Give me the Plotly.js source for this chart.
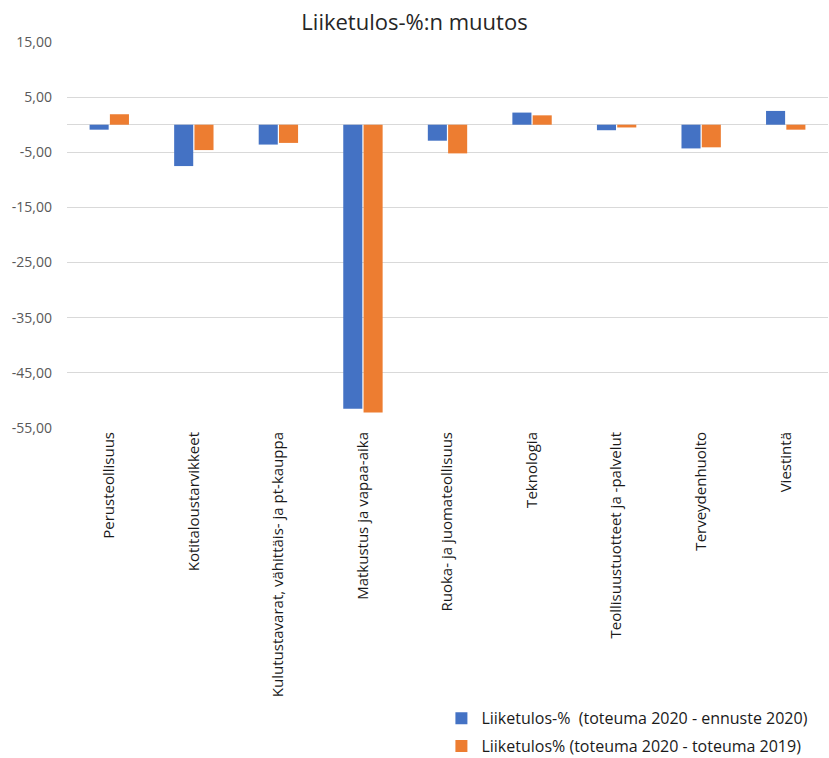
<!DOCTYPE html>
<html>
<head>
<meta charset="utf-8">
<script src="https://cdn.plot.ly/plotly-3.0.1.min.js"></script>
<style>
  html, body { margin: 0; padding: 0; background: #ffffff; }
  #chart { width: 829px; height: 758px; }
</style>
</head>
<body>
<div id="chart"></div>
<script>
// Toimialat
const categories = [
  "Perusteollisuus",
  "Kotitaloustarvikkeet",
  "Kulutustavarat, vähittäis- ja pt-kauppa",
  "Matkustus ja vapaa-aika",
  "Ruoka- ja juomateollisuus",
  "Teknologia",
  "Teollisuustuotteet ja -palvelut",
  "Terveydenhuolto",
  "Viestintä"
];

// Liiketulos-% (toteuma 2020 - ennuste 2020)
const vsForecast = [-0.9, -7.5, -3.6, -51.5, -2.9, 2.2, -1.0, -4.3, 2.5];

// Liiketulos% (toteuma 2020 - toteuma 2019)
const vsPrevYear = [1.9, -4.6, -3.3, -52.2, -5.2, 1.7, -0.5, -4.1, -0.9];

// Pystyakselin jaotus
const yTicks = [15, 5, -5, -15, -25, -35, -45, -55];
const yTickText = ["15,00", "5,00", "-5,00", "-15,00", "-25,00", "-35,00", "-45,00", "-55,00"];

const FONT = "Open Sans, Noto Sans, sans-serif";

const traces = [
  {
    type: "bar",
    name: "Liiketulos-%  (toteuma 2020 - ennuste 2020)",
    x: categories,
    y: vsForecast,
    legendgroup: "a",
    marker: { color: "#4472c4" },
    hoverinfo: "x+y"
  },
  {
    type: "bar",
    name: "Liiketulos% (toteuma 2020 - toteuma 2019)",
    x: categories,
    y: vsPrevYear,
    legendgroup: "b",
    marker: { color: "#ed7d31" },
    hoverinfo: "x+y"
  }
];

const layout = {
  width: 829,
  height: 758,
  margin: { l: 67, r: 1, t: 42, b: 330, autoexpand: false },
  paper_bgcolor: "#ffffff",
  plot_bgcolor: "#ffffff",
  separators: ", ",
  font: { family: FONT, color: "#595959" },
  title: {
    text: "Liiketulos-%:n muutos",
    font: { family: FONT, size: 22, color: "#262626" },
    x: 0.5,
    xanchor: "center",
    y: 0.971,
    yanchor: "middle"
  },
  barmode: "group",
  bargap: 0.52,
  bargroupgap: 0.06,
  xaxis: {
    type: "category",
    automargin: false,
    tickangle: -90,
    tickfont: { family: FONT, size: 15, color: "#1a1a1a" },
    showgrid: false,
    showline: false,
    ticks: "",
    zeroline: false
  },
  yaxis: {
    automargin: false,
    range: [-55, 15],
    tickvals: yTicks,
    ticktext: yTickText,
    tickfont: { family: FONT, size: 14, color: "#595959" },
    showgrid: true,
    gridcolor: "#d9d9d9",
    gridwidth: 1,
    zeroline: true,
    zerolinecolor: "#d9d9d9",
    zerolinewidth: 1,
    showline: false,
    ticks: "",
    ticklabelstandoff: 14
  },
  showlegend: true,
  legend: {
    orientation: "v",
    traceorder: "grouped",
    x: 0.492,
    xanchor: "left",
    y: -0.708,
    yanchor: "top",
    font: { family: FONT, size: 16, color: "#1a1a1a" },
    bgcolor: "rgba(0,0,0,0)",
    itemwidth: 30,
    tracegroupgap: 4
  }
};

Plotly.newPlot("chart", traces, layout, { displayModeBar: false, staticPlot: true });
</script>
</body>
</html>
